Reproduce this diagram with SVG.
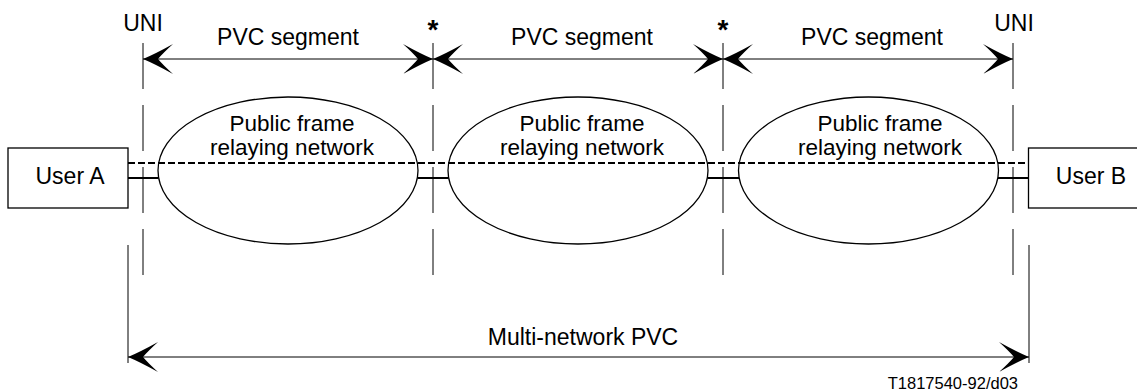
<svg xmlns="http://www.w3.org/2000/svg" width="1137" height="392" viewBox="0 0 1137 392">
<style>
text{font-family:"Liberation Sans",Arial,sans-serif;font-size:23px;fill:#000}
.mid{text-anchor:middle}
.net-t{font-size:22.5px}
.star{font-size:28px;font-weight:bold}
.vd{stroke:#000;stroke-width:1;stroke-dasharray:46 16;fill:none}
.thin{stroke:#000;stroke-width:1;fill:none}
.box{stroke:#000;stroke-width:1.3;fill:#fff}
.net{stroke:#000;stroke-width:1.3;fill:#fff}
.link{stroke:#000;stroke-width:2;fill:none}
.dl{stroke:#000;stroke-width:2;stroke-dasharray:7 3;fill:none}
.ah{fill:#000;stroke:none}
</style>
<defs>
<path id="ah" d="M0,0 Q12,-5 30,-15 Q20,-6 15,0 Q20,6 30,15 Q12,5 0,0 Z"/>
</defs>

<g id="networks">
<g id="net1"><ellipse class="net" cx="288" cy="170.5" rx="130" ry="73.5"/>
<text class="mid net-t" x="292" y="131">Public frame</text><text class="mid net-t" x="292" y="155">relaying network</text></g>
<g id="net2"><ellipse class="net" cx="578" cy="170.5" rx="130" ry="73.5"/>
<text class="mid net-t" x="582" y="131">Public frame</text><text class="mid net-t" x="582" y="155">relaying network</text></g>
<g id="net3"><ellipse class="net" cx="868.5" cy="170.5" rx="130" ry="73.5"/>
<text class="mid net-t" x="880" y="131">Public frame</text><text class="mid net-t" x="880" y="155">relaying network</text></g>
</g>

<g id="userA"><rect class="box" x="8" y="148" width="120" height="60"/><text class="mid" x="70" y="184">User A</text></g>
<g id="userB"><rect class="box" x="1028.5" y="148" width="130" height="60"/><text class="mid" x="1091" y="184">User B</text></g>

<g id="connectors">
<line class="dl" x1="128" y1="163" x2="1028" y2="163"/>
<line class="link" x1="128" y1="178" x2="158" y2="178"/>
<line class="link" x1="418" y1="178" x2="448" y2="178"/>
<line class="link" x1="708" y1="178" x2="739" y2="178"/>
<line class="link" x1="998" y1="178" x2="1028" y2="178"/>

<line class="vd" x1="143" y1="43" x2="143" y2="275"/>
<line class="vd" x1="433" y1="43" x2="433" y2="275"/>
<line class="vd" x1="723" y1="43" x2="723" y2="275"/>
<line class="vd" x1="1013" y1="43" x2="1013" y2="275"/>

<line class="thin" x1="143" y1="59" x2="1013" y2="59"/>
<use href="#ah" class="ah" transform="translate(143,59)"/>
<use href="#ah" class="ah" transform="translate(433,59) rotate(180)"/>
<use href="#ah" class="ah" transform="translate(433,59)"/>
<use href="#ah" class="ah" transform="translate(723,59) rotate(180)"/>
<use href="#ah" class="ah" transform="translate(723,59)"/>
<use href="#ah" class="ah" transform="translate(1013,59) rotate(180)"/>

<line class="thin" x1="128" y1="245" x2="128" y2="363"/>
<line class="thin" x1="1029" y1="245" x2="1029" y2="363"/>
<line class="thin" x1="128" y1="357" x2="1029" y2="357"/>
<use href="#ah" class="ah" transform="translate(128,357)"/>
<use href="#ah" class="ah" transform="translate(1029,357) rotate(180)"/>
</g>

<g id="labels">
<text class="mid" x="143" y="31">UNI</text>
<text class="mid" x="1014" y="31">UNI</text>
<text class="mid star" x="433" y="39">*</text>
<text class="mid star" x="723" y="39">*</text>
<text class="mid" x="288" y="45">PVC segment</text>
<text class="mid" x="582" y="45">PVC segment</text>
<text class="mid" x="872" y="45">PVC segment</text>
<text class="mid" x="583" y="345">Multi-network PVC</text>
<text x="1018" y="389" style="text-anchor:end;font-size:16.5px">T1817540-92/d03</text>
</g>
</svg>
